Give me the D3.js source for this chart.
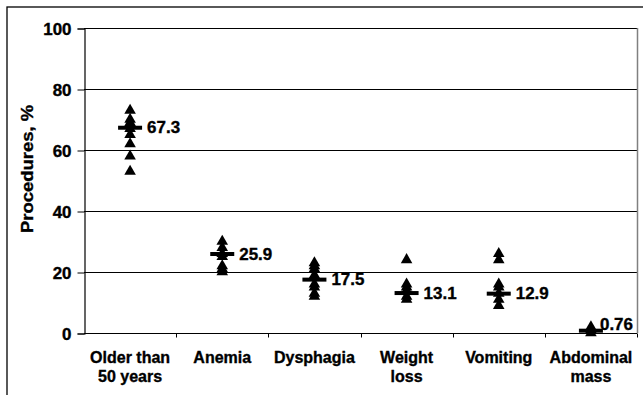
<!DOCTYPE html>
<html>
<head>
<meta charset="utf-8">
<script src="https://cdn.jsdelivr.net/npm/d3@7/dist/d3.min.js"></script>
<style>
  html, body { margin: 0; padding: 0; background: #fff; }
  svg { display: block; }
  text { font-family: "Liberation Sans", Arial, Helvetica, sans-serif; font-weight: bold; fill: #000; stroke: #000; stroke-width: 0.35px; }
</style>
</head>
<body>
<svg id="chart" width="643" height="395"></svg>
<script>
// Indications for endoscopy: share of procedures per indication
const categories = ["Older than|50 years", "Anemia", "Dysphagia", "Weight|loss", "Vomiting", "Abdominal|mass"];
const meanValues = [67.3, 25.9, 17.5, 13.1, 12.9, 0.76];
const olderPoints = [73, 70, 69, 67, 65, 62, 58, 53];
const anemiaPoints = [30, 28, 26, 25, 22, 21, 20];
const dysphagiaPoints = [23, 22, 21, 19, 16, 15, 13, 12];
const weightLossPoints = [24, 16, 15, 14, 12, 11];
const vomitingPoints = [26, 24, 16, 15, 13, 11, 9];
const abdominalPoints = [2, 1, 0];
const yTicks = [0, 20, 40, 60, 80, 100];
const yTitle = "Procedures, %";

const pointSets = [olderPoints, anemiaPoints, dysphagiaPoints, weightLossPoints, vomitingPoints, abdominalPoints];

const svg = d3.select("#chart");
const plotLeft = 84, plotRight = 637, plotTop = 28, plotBottom = 333;
const wide = 1.06; // slight horizontal stretch for the numeric labels

const x = d3.scaleBand().domain(categories).range([plotLeft, plotRight]);
const y = d3.scaleLinear().domain([0, 100]).range([plotBottom, plotTop]);

// outer frame
svg.append("rect")
  .attr("x", 7).attr("y", 7).attr("width", 700).attr("height", 500)
  .attr("fill", "none").attr("stroke", "#000").attr("stroke-width", 1.3);

// horizontal gridlines
svg.append("g")
  .selectAll("line")
  .data(yTicks.filter(d => d > 0))
  .join("line")
  .attr("x1", plotLeft).attr("x2", plotRight)
  .attr("y1", d => Math.round(y(d)) + 0.5).attr("y2", d => Math.round(y(d)) + 0.5)
  .attr("stroke", "#000").attr("stroke-width", 1);

// right edge of plot area
svg.append("line")
  .attr("x1", plotRight + 0.5).attr("x2", plotRight + 0.5)
  .attr("y1", y(100)).attr("y2", plotBottom)
  .attr("stroke", "#808080").attr("stroke-width", 1.5);

// y axis
const yAxis = svg.append("g")
  .attr("transform", `translate(${plotLeft + 0.5},0.5)`)
  .call(d3.axisLeft(y).tickValues(yTicks).tickSize(7).tickPadding(6).tickFormat(d3.format("d")));
yAxis.select(".domain").attr("stroke", "#000").attr("stroke-width", 1.2);
yAxis.selectAll(".tick line").attr("stroke", "#000");
yAxis.selectAll(".tick text")
  .attr("x", 0)
  .attr("dy", "0.36em")
  .attr("transform", `translate(-13,0) scale(${wide},1)`)
  .style("font-size", "16px")
  .style("font-family", "'Liberation Sans', Arial, sans-serif")
  .style("font-weight", "bold")
  .attr("fill", "#000")
  .attr("stroke", "#000")
  .attr("stroke-width", 0.35);

// x axis with ticks between categories
const xAxisG = svg.append("g").attr("transform", `translate(0,${plotBottom + 0.5})`);
xAxisG.append("line")
  .attr("x1", plotLeft).attr("x2", plotRight)
  .attr("stroke", "#000").attr("stroke-width", 1.2);
const boundaries = categories.map(c => x(c)).concat([plotRight]);
xAxisG.selectAll("line.tk")
  .data(boundaries.slice(1))
  .join("line")
  .attr("class", "tk")
  .attr("x1", d => Math.round(d) + 0.5).attr("x2", d => Math.round(d) + 0.5)
  .attr("y1", 0).attr("y2", 4)
  .attr("stroke", "#000");

// category labels (two lines where split by "|")
const catLabels = svg.append("g");
categories.forEach(c => {
  const t = catLabels.append("text")
    .attr("x", x(c) + x.bandwidth() / 2)
    .attr("y", 363)
    .attr("text-anchor", "middle")
    .style("font-size", "16px");
  c.split("|").forEach((line, i) => {
    t.append("tspan")
      .attr("x", x(c) + x.bandwidth() / 2)
      .attr("dy", i === 0 ? 0 : 18.5)
      .text(line);
  });
});

// y axis title
svg.append("text")
  .attr("transform", `translate(33,169) rotate(-90) scale(1.12,1)`)
  .attr("text-anchor", "middle")
  .style("font-size", "16.5px")
  .text(yTitle);

// individual points
const tri = d3.symbol().type(d3.symbolTriangle).size(58);
pointSets.forEach((pts, i) => {
  const cx = x(categories[i]) + x.bandwidth() / 2;
  svg.append("g")
    .selectAll("path")
    .data(pts)
    .join("path")
    .attr("d", tri)
    .attr("transform", d => `translate(${cx},${y(d)})`)
    .attr("fill", "#000");
});

// mean markers and value labels
meanValues.forEach((v, i) => {
  const cx = x(categories[i]) + x.bandwidth() / 2;
  svg.append("rect")
    .attr("x", cx - 12).attr("y", y(v) - 2)
    .attr("width", 24).attr("height", 4)
    .attr("fill", "#000");
  const label = svg.append("text")
    .style("font-size", "16px")
    .attr("dy", "0.36em")
    .text(String(v));
  const w = label.node().getComputedTextLength() * wide;
  const lx = Math.min(cx + 17, plotRight - 4 - w);
  const ly = Math.min(y(v), plotBottom - 9);
  label.attr("transform", `translate(${lx},${ly}) scale(${wide},1)`);
});
</script>
</body>
</html>
